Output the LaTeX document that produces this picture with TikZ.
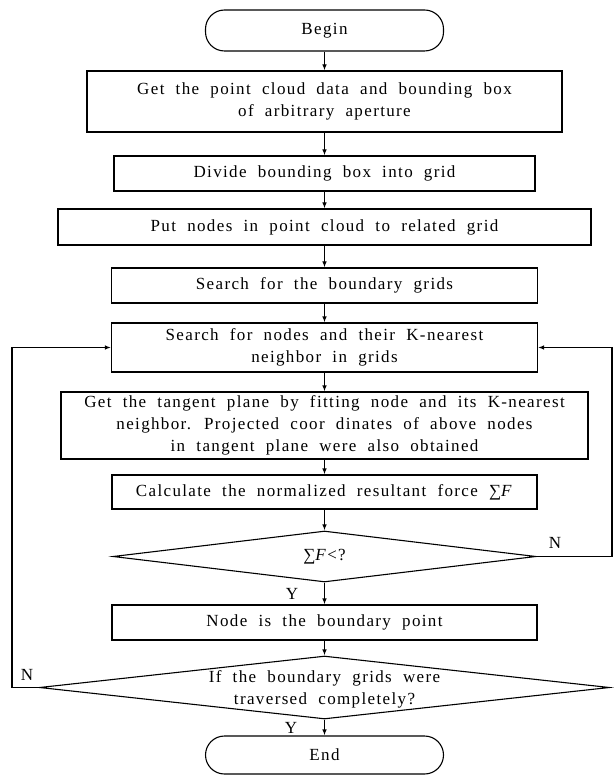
\documentclass[tikz,border=0pt]{standalone}
\usepackage{fontspec}
\setmainfont{Liberation Serif}[LetterSpace=8, WordSpace=2]
\usetikzlibrary{shapes.geometric,arrows.meta}
\begin{document}
\begin{tikzpicture}[x=1pt,y=-1pt,
  txt/.style={font=\fontsize{17}{22}\selectfont},
  proc/.style={draw, line width=1.1pt, inner sep=0pt, align=center, txt},
  term/.style={proc, rounded corners=19pt},
  dec/.style={draw, diamond, line width=1.1pt, inner sep=0pt},
  line/.style={line width=1.1pt},
  arr/.style={line, -{Latex[length=6pt,width=4.5pt]}}]
\useasboundingbox (0,0) rectangle (613,775);

\node[term, minimum width=238pt, minimum height=41pt] (begin) at (324.5,30.5) {Begin};
\node[proc, minimum width=475pt, minimum height=61pt] (b1) at (324.5,101.5) {Get the point cloud data and bounding box\\of arbitrary aperture};
\node[proc, minimum width=421pt, minimum height=35pt] (b2) at (324.5,173.5) {Divide bounding box into grid};
\node[proc, minimum width=533pt, minimum height=36pt] (b3) at (324.5,227) {Put nodes in point cloud to related grid};
\node[proc, minimum width=426pt, minimum height=35pt] (b4) at (324.5,285.5) {Search for the boundary grids};
\node[proc, minimum width=426pt, minimum height=49pt] (b5) at (324.5,347.5) {Search for nodes and their K-nearest\\neighbor in grids};
\node[proc, minimum width=527pt, minimum height=67pt] (b6) at (324.5,425.5) {Get the tangent plane by fitting node and its K-nearest\\neighbor. Projected coor dinates of above nodes\\in tangent plane were also obtained};
\node[proc, minimum width=425pt, minimum height=34pt] (b7) at (324.5,492) {Calculate the normalized resultant force ∑\textit{F}};
\node[dec, minimum width=423pt, minimum height=51pt] (d1) at (324.5,556.5) {};
\node[txt] (d1t) at (d1) {∑\textit{F}<?};
\node[proc, minimum width=425pt, minimum height=35pt] (b8) at (324.5,622.5) {Node is the boundary point};
\node[dec, minimum width=570pt, minimum height=63pt] (d2) at (324.5,687.5) {};
\node[txt, align=center] (d2t) at (324.5,689.5) {If the boundary grids were\\traversed completely?};
\node[term, minimum width=238pt, minimum height=38pt] (end) at (324.5,755) {End};

\coordinate (rc) at (612,0);
\coordinate (lc) at (12,0);

\draw[arr] (begin) -- (b1);
\draw[arr] (b1) -- (b2);
\draw[arr] (b2) -- (b3);
\draw[arr] (b3) -- (b4);
\draw[arr] (b4) -- (b5);
\draw[arr] (b5) -- (b6);
\draw[arr] (b6) -- (b7);
\draw[arr] (b7) -- (d1);
\draw[arr] (d1) -- (b8);
\draw[arr] (b8) -- (d2);
\draw[arr] (d2) -- (end);
\draw[arr] (d1.east) -- (d1.east -| rc) |- (b5.east);
\draw[arr] (d2.west) -- (d2.west -| lc) |- (b5.west);

\node[txt] (n1) at (555,543) {N};
\node[txt] (y1) at (292,594) {Y};
\node[txt] (n2) at (27,675) {N};
\node[txt] (y2) at (291,728) {Y};
\end{tikzpicture}
\end{document}
